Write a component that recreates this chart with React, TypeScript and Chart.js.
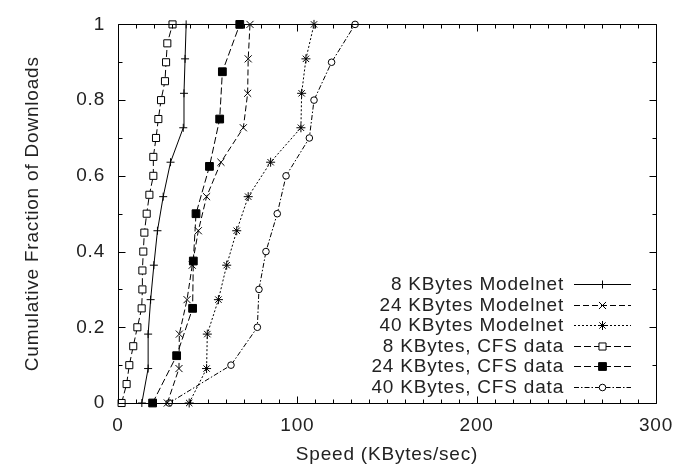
import React, { useEffect, useRef } from 'react';
import { Chart, registerables } from 'chart.js';

Chart.register(...registerables);

// ---- Data ----
const seriesLabels = [
  '8 KBytes Modelnet',
  '24 KBytes Modelnet',
  '40 KBytes Modelnet',
  '8 KBytes, CFS data',
  '24 KBytes, CFS data',
  '40 KBytes, CFS data',
];

// cumulative fractions (y values)
const fracModelnet = [0, 0.091, 0.182, 0.273, 0.364, 0.455, 0.545, 0.636, 0.727, 0.818, 0.909, 1];
const frac8Cfs = [0, 0.05, 0.1, 0.15, 0.2, 0.25, 0.3, 0.35, 0.4, 0.45, 0.5, 0.55, 0.6, 0.65, 0.7, 0.75, 0.8, 0.85, 0.9, 0.95, 1];
const frac24Cfs = [0, 0.125, 0.25, 0.375, 0.5, 0.625, 0.75, 0.875, 1];
const frac40Cfs = [0, 0.1, 0.2, 0.3, 0.4, 0.5, 0.6, 0.7, 0.8, 0.9, 1];

// speeds (x values, KBytes/sec)
const speed8Modelnet = [13.3, 16.8, 16.8, 18.2, 20, 22, 25.2, 29.3, 36.4, 36.8, 37.4, 38];
const speed24Modelnet = [27.5, 34, 34.2, 38.5, 41.4, 44.8, 49.4, 57.4, 69.9, 72.3, 72.6, 73.6];
const speed40Modelnet = [39.7, 49.4, 49.8, 56, 60.6, 66.2, 72.6, 85.1, 102, 102.4, 104.8, 109.3];
const speed8Cfs = [2, 4.8, 6.3, 8.5, 10.8, 13.2, 13.6, 13.6, 14.1, 14.7, 16, 17.5, 19.7, 19.7, 21.2, 22.5, 24, 26.2, 26.8, 27.5, 30.4];
const speed24Cfs = [19.3, 32.7, 41.6, 42, 43.5, 51, 56.7, 58.2, 67.9];
const speed40Cfs = [28.5, 63, 77.7, 78.6, 82.5, 88.8, 93.7, 106.7, 109.3, 119.1, 132.2];

const xTickStep = 10;
const xLabelEvery = 100;
const yTickStep = 0.1;

// ---- Styles ----
type Style = { dash: number[]; pointStyle: string; radius: number; fill: string };
const styles: Style[] = [
  { dash: [], pointStyle: 'cross', radius: 4, fill: '#ffffff' },
  { dash: [6, 3], pointStyle: 'crossRot', radius: 5, fill: '#ffffff' },
  { dash: [2, 2], pointStyle: 'star', radius: 4.5, fill: '#ffffff' },
  { dash: [7, 3], pointStyle: 'rect', radius: 5, fill: '#ffffff' },
  { dash: [7, 3], pointStyle: 'rect', radius: 5.5, fill: '#000000' },
  { dash: [5, 2, 1.5, 2], pointStyle: 'circle', radius: 3.3, fill: '#ffffff' },
];

const FONT = '"Liberation Sans", Arial, Helvetica, sans-serif';
const FONT_SIZE = 19;
const LETTER_SPACING = '0.8px';
const TEXT = '#222222';

function zip(xs: number[], ys: number[]) {
  return xs.map((x, i) => ({ x, y: ys[i] }));
}

function drawMarker(ctx: CanvasRenderingContext2D, style: Style, x: number, y: number) {
  const r = style.radius;
  ctx.save();
  ctx.setLineDash([]);
  ctx.lineWidth = 1;
  ctx.strokeStyle = '#000';
  ctx.fillStyle = style.fill;
  ctx.beginPath();
  if (style.pointStyle === 'cross') {
    ctx.moveTo(x - r, y); ctx.lineTo(x + r, y);
    ctx.moveTo(x, y - r); ctx.lineTo(x, y + r);
    ctx.stroke();
  } else if (style.pointStyle === 'crossRot') {
    const o = r * Math.SQRT1_2;
    ctx.moveTo(x - o, y - o); ctx.lineTo(x + o, y + o);
    ctx.moveTo(x - o, y + o); ctx.lineTo(x + o, y - o);
    ctx.stroke();
  } else if (style.pointStyle === 'star') {
    const o = r * Math.SQRT1_2;
    ctx.moveTo(x - o, y - o); ctx.lineTo(x + o, y + o);
    ctx.moveTo(x - o, y + o); ctx.lineTo(x + o, y - o);
    ctx.moveTo(x - r, y); ctx.lineTo(x + r, y);
    ctx.moveTo(x, y - r); ctx.lineTo(x, y + r);
    ctx.stroke();
  } else if (style.pointStyle === 'rect') {
    const s = r * Math.SQRT1_2;
    ctx.rect(x - s, y - s, 2 * s, 2 * s);
    ctx.fill();
    ctx.stroke();
  } else {
    ctx.arc(x, y, r, 0, Math.PI * 2);
    ctx.fill();
    ctx.stroke();
  }
  ctx.restore();
}

const spacingPlugin = {
  id: 'letterSpacing',
  beforeLayout(chart: any) { (chart.ctx as any).letterSpacing = LETTER_SPACING; },
  beforeDraw(chart: any) { (chart.ctx as any).letterSpacing = LETTER_SPACING; },
};

const framePlugin = {
  id: 'frameTicks',
  afterDraw(chart: any) {
    const { ctx, chartArea } = chart;
    const { left, right, top, bottom } = chartArea;
    const xs = chart.scales.x;
    const ys = chart.scales.y;
    ctx.save();
    ctx.setLineDash([]);
    ctx.strokeStyle = '#000';
    ctx.lineWidth = 1;
    const L = Math.round(left) + 0.5;
    const R = Math.round(right) + 0.5;
    const T = Math.round(top) + 0.5;
    const B = Math.round(bottom) + 0.5;
    ctx.beginPath();
    ctx.rect(L, T, R - L, B - T);
    xs.ticks.forEach((t: any) => {
      const px = Math.round(xs.getPixelForValue(t.value)) + 0.5;
      const major = Math.round(t.value) % xLabelEvery === 0;
      const len = major ? 7 : 4;
      ctx.moveTo(px, B); ctx.lineTo(px, B - len);
      ctx.moveTo(px, T); ctx.lineTo(px, T + len);
    });
    ys.ticks.forEach((t: any) => {
      const py = Math.round(ys.getPixelForValue(t.value)) + 0.5;
      const major = Math.round(t.value * 10) % 2 === 0;
      const len = major ? 7 : 4;
      ctx.moveTo(L, py); ctx.lineTo(L + len, py);
      ctx.moveTo(R, py); ctx.lineTo(R - len, py);
    });
    ctx.stroke();

    // legend (text left, sample right)
    const textRight = 564;
    const sampleL = 574;
    const sampleR = 631;
    const firstRow = 284;
    const rowGap = 20.6;
    (ctx as any).letterSpacing = LETTER_SPACING;
    ctx.font = `${FONT_SIZE}px ${FONT}`;
    ctx.textAlign = 'right';
    ctx.textBaseline = 'middle';
    seriesLabels.forEach((label, i) => {
      const y = Math.round(firstRow + i * rowGap);
      ctx.fillStyle = TEXT;
      ctx.fillText(label, textRight, y + 1);
      const st = styles[i];
      ctx.beginPath();
      ctx.setLineDash(st.dash);
      ctx.moveTo(sampleL, y + 0.5);
      ctx.lineTo(sampleR, y + 0.5);
      ctx.stroke();
      drawMarker(ctx, st, (sampleL + sampleR) / 2, y + 0.5);
    });
    ctx.restore();
  },
};

export default function App() {
  const canvasRef = useRef<HTMLCanvasElement | null>(null);

  useEffect(() => {
    if (!canvasRef.current) return;
    const xsList = [speed8Modelnet, speed24Modelnet, speed40Modelnet, speed8Cfs, speed24Cfs, speed40Cfs];
    const ysList = [fracModelnet, fracModelnet, fracModelnet, frac8Cfs, frac24Cfs, frac40Cfs];
    const datasets = seriesLabels.map((label, i) => ({
      label,
      data: zip(xsList[i], ysList[i]),
      showLine: true,
      borderColor: '#000',
      borderWidth: 1,
      borderDash: styles[i].dash,
      pointStyle: styles[i].pointStyle,
      pointRadius: styles[i].radius,
      pointBorderWidth: 1,
      pointBorderColor: '#000',
      pointBackgroundColor: styles[i].fill,
      tension: 0,
      clip: false,
    }));

    const tickFont = { family: FONT, size: FONT_SIZE };

    const chart = new Chart(canvasRef.current, {
      type: 'scatter',
      data: { datasets } as any,
      options: {
        animation: false,
        responsive: false,
        devicePixelRatio: 1,
        events: [],
        layout: { padding: { left: 0, top: 15, right: 29, bottom: 0 } },
        plugins: { legend: { display: false }, tooltip: { enabled: false } },
        scales: {
          x: {
            type: 'linear',
            min: 0,
            max: 300,
            grid: { display: false, drawTicks: false, tickLength: 0 },
            border: { display: false },
            ticks: {
              stepSize: xTickStep,
              autoSkip: false,
              maxRotation: 0,
              padding: 11,
              color: TEXT,
              font: tickFont,
              callback: (v: any) => (Math.round(v) % xLabelEvery === 0 ? String(Math.round(v)) : ''),
            },
            title: {
              display: true,
              text: 'Speed (KBytes/sec)',
              color: TEXT,
              font: tickFont,
              padding: { top: 0, bottom: 5 },
            },
            afterFit: (s: any) => { s.height = 68; },
          },
          y: {
            type: 'linear',
            min: 0,
            max: 1,
            grid: { display: false, drawTicks: false, tickLength: 0 },
            border: { display: false },
            ticks: {
              stepSize: yTickStep,
              autoSkip: false,
              padding: 13,
              color: TEXT,
              font: tickFont,
              callback: (v: any) => {
                const r = Math.round(v * 10);
                if (r % 2 !== 0) return '';
                if (r === 0) return '0';
                if (r === 10) return '1';
                return (r / 10).toFixed(1);
              },
            },
            title: {
              display: true,
              text: 'Cumulative Fraction of Downloads',
              color: TEXT,
              font: tickFont,
              padding: { top: 21, bottom: 0 },
            },
            afterFit: (s: any) => { s.width = 118; },
          },
        },
      } as any,
      plugins: [spacingPlugin, framePlugin],
    });
    return () => chart.destroy();
  }, []);

  return (
    <div style={{ position: 'absolute', left: 0, top: 0, width: 685, height: 471, background: '#fff' }}>
      <canvas ref={canvasRef} width={685} height={471} style={{ display: 'block' }} />
    </div>
  );
}
